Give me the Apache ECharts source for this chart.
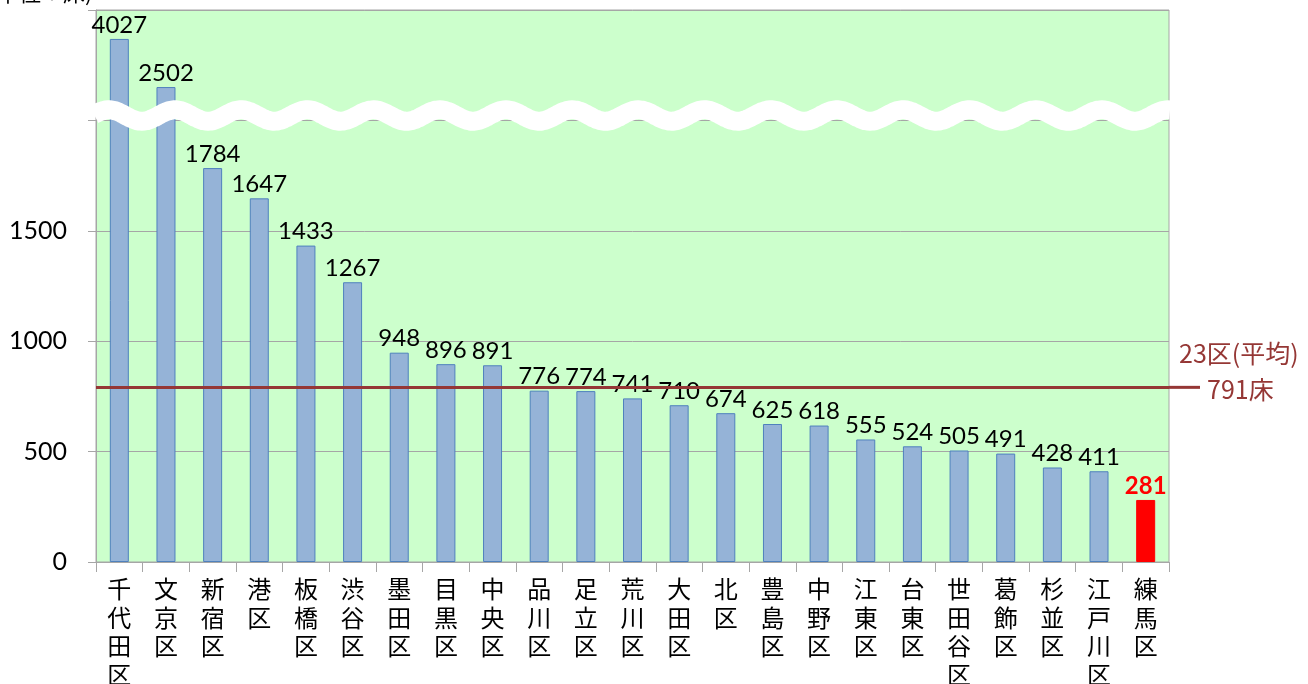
<!DOCTYPE html>
<html>
<head>
<meta charset="utf-8">
<script src="https://cdn.jsdelivr.net/npm/echarts@6.0.0/dist/echarts.min.js"></script>
<style>
html,body{margin:0;padding:0;background:#fff;}
#c{width:1308px;height:684px;}
</style>
</head>
<body>
<div id="c"></div>
<script>
// ---- data ----
const categories = ['千代田区','文京区','新宿区','港区','板橋区','渋谷区','墨田区','目黒区','中央区','品川区','足立区','荒川区','大田区','北区','豊島区','中野区','江東区','台東区','世田谷区','葛飾区','杉並区','江戸川区','練馬区'];
const beds = [4027,2502,1784,1647,1433,1267,948,896,891,776,774,741,710,674,625,618,555,524,505,491,428,411,281];
const highlightName = '練馬区';
const average = 791;
const averageLabel = '23区(平均)';
const averageUnit = '床';
const unitText = '単位：床)';
const yTicks = [0, 500, 1000, 1500];

// ---- styles ----
const NUM_FONT = 'Lato, "Noto Sans", sans-serif';
const JP_FONT = '"Noto Sans CJK JP", sans-serif';
const AVG_COLOR = '#953735';

const chart = echarts.init(document.getElementById('c'), null, {renderer: 'canvas'});

const seriesData = beds.map((v, i) => categories[i] === highlightName
  ? {value: v, itemStyle: {color: '#FF0000', borderColor: '#FF0000'}, label: {color: '#FF0000', fontWeight: 'bold'}}
  : v);

// axis breaks (broken scale for the two tallest bars)
const axisBreaks = [
  {start: 2060, end: 2411, gap: 0},
  {start: 2600, end: 3907, gap: 0}
];

chart.setOption({
  animation: false,
  backgroundColor: '#ffffff',
  grid: {left: 96, top: 10, right: 139, bottom: 122, show: true, backgroundColor: '#CCFFCC',
         borderColor: '#A6A6A6', borderWidth: 1, containLabel: false, outerBoundsMode: 'none'},
  xAxis: {
    type: 'category', data: categories,
    axisLine: {lineStyle: {color: '#A6A6A6', width: 1}},
    axisTick: {show: true, interval: 0, length: 10, lineStyle: {color: '#A6A6A6'}},
    axisLabel: {interval: 0, margin: 13, color: '#000', fontFamily: JP_FONT, fontSize: 24, lineHeight: 28.5,
      verticalAlign: 'top',
      formatter: s => s.split('').join('\n')}
  },
  yAxis: [{
    type: 'value', min: 0, max: 2500, interval: 500,
    axisLine: {show: true, lineStyle: {color: '#A6A6A6'}},
    axisTick: {show: true, length: 8, lineStyle: {color: '#A6A6A6'}},
    splitLine: {show: true, lineStyle: {color: '#A6A6A6', width: 1}},
    axisLabel: {margin: 29, color: '#000', fontFamily: NUM_FONT, fontSize: 25,
      formatter: v => yTicks.indexOf(v) >= 0 ? String(v) : ''}
  }, {
    type: 'value', min: 0, max: 4158, show: false, position: 'left',
    breaks: axisBreaks,
    breakArea: {show: false},
    splitLine: {show: false}
  }],
  series: [{
    type: 'bar', yAxisIndex: 1, data: seriesData, barWidth: 19,
    itemStyle: {color: '#95B3D7', borderColor: '#4F81BD', borderWidth: 1},
    label: {show: true, position: 'top', distance: 2, color: '#000', fontFamily: NUM_FONT, fontSize: 24},
    markLine: {
      silent: true, symbol: 'none', z: 10,
      lineStyle: {color: AVG_COLOR, width: 3, type: 'solid'},
      label: {show: false},
      data: [{yAxis: average}]
    }
  }]
});

// decorations depending on library scale
const yAvg = chart.convertToPixel({yAxisIndex: 1}, average);
const gridRight = 1308 - 139;
const wavePts = [];
for (let x = 94; x <= 1171; x += 2) {
  wavePts.push([x, 115.5 - 5.7 * Math.cos(2 * Math.PI * (x - 175) / 66.2)]);
}
chart.setOption({
  graphic: [
    {type: 'polyline', z: 100, shape: {points: wavePts, smooth: 0.3},
     style: {stroke: '#ffffff', lineWidth: 19, fill: null, lineCap: 'butt'}},
    {type: 'line', z: 50, shape: {x1: gridRight, y1: yAvg, x2: 1200, y2: yAvg},
     style: {stroke: AVG_COLOR, lineWidth: 3}},
    {type: 'text', z: 50, x: 1179, y: yAvg - 34,
     style: {text: averageLabel, fill: AVG_COLOR, font: '25px ' + JP_FONT, verticalAlign: 'middle'}},
    {type: 'text', z: 50, x: 1207, y: yAvg + 2,
     style: {text: average + averageUnit, fill: AVG_COLOR, font: '25px ' + JP_FONT, verticalAlign: 'middle'}},
    {type: 'text', z: 50, x: -3, y: -18,
     style: {text: unitText, fill: '#000', font: '22px ' + JP_FONT, verticalAlign: 'top'}}
  ]
});
</script>
</body>
</html>
